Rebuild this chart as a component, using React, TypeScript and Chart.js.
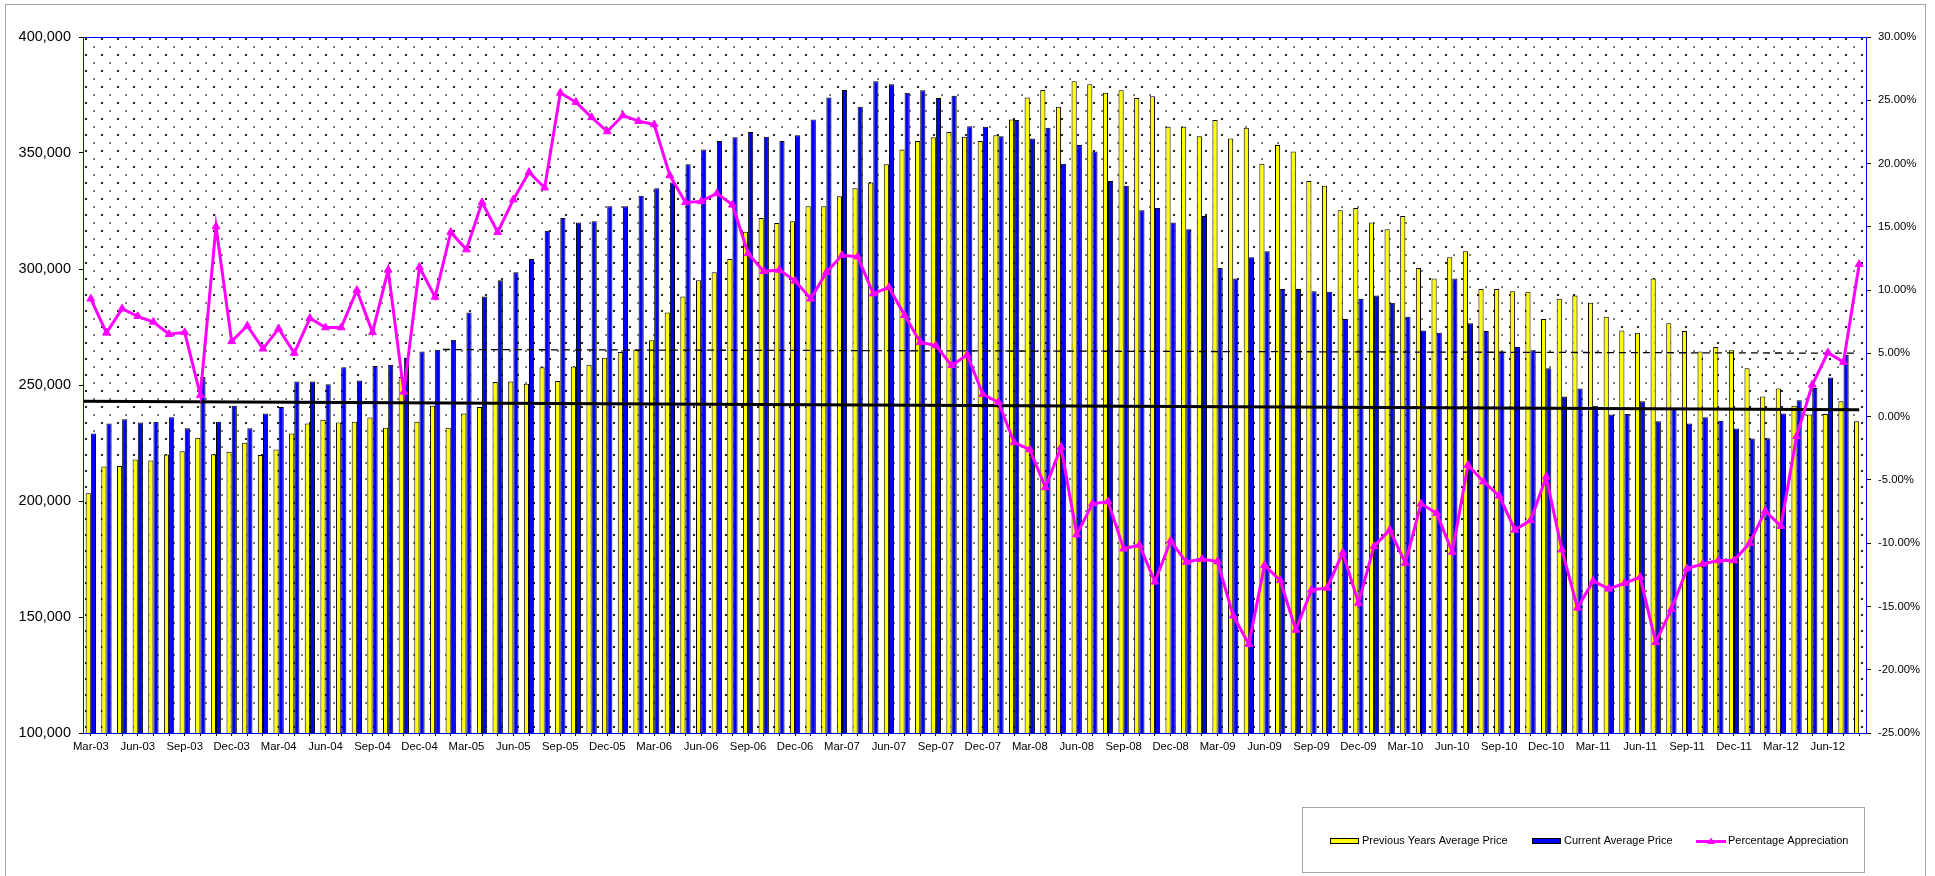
import React, { useEffect, useRef } from 'react';
import { Chart, registerables } from 'chart.js';

Chart.register(...registerables);

const categories = [
  'Mar-03','Apr-03','May-03','Jun-03','Jul-03','Aug-03','Sep-03','Oct-03','Nov-03','Dec-03',
  'Jan-04','Feb-04','Mar-04','Apr-04','May-04','Jun-04','Jul-04','Aug-04','Sep-04','Oct-04','Nov-04','Dec-04',
  'Jan-05','Feb-05','Mar-05','Apr-05','May-05','Jun-05','Jul-05','Aug-05','Sep-05','Oct-05','Nov-05','Dec-05',
  'Jan-06','Feb-06','Mar-06','Apr-06','May-06','Jun-06','Jul-06','Aug-06','Sep-06','Oct-06','Nov-06','Dec-06',
  'Jan-07','Feb-07','Mar-07','Apr-07','May-07','Jun-07','Jul-07','Aug-07','Sep-07','Oct-07','Nov-07','Dec-07',
  'Jan-08','Feb-08','Mar-08','Apr-08','May-08','Jun-08','Jul-08','Aug-08','Sep-08','Oct-08','Nov-08','Dec-08',
  'Jan-09','Feb-09','Mar-09','Apr-09','May-09','Jun-09','Jul-09','Aug-09','Sep-09','Oct-09','Nov-09','Dec-09',
  'Jan-10','Feb-10','Mar-10','Apr-10','May-10','Jun-10','Jul-10','Aug-10','Sep-10','Oct-10','Nov-10','Dec-10',
  'Jan-11','Feb-11','Mar-11','Apr-11','May-11','Jun-11','Jul-11','Aug-11','Sep-11','Oct-11','Nov-11','Dec-11',
  'Jan-12','Feb-12','Mar-12','Apr-12','May-12','Jun-12','Jul-12','Aug-12'
];

const previousYearsAvg = [
  203300, 214900, 215100, 217900, 217500, 220000, 221400, 227300, 220200, 221200,
  225100, 219800, 222200, 229100, 233400, 235000, 233800, 234200, 236000, 231600,
  253400, 234200, 241100, 231600, 237700, 240500, 251300, 251500, 250500, 257600,
  251700, 258000, 258700, 261700, 264200, 265200, 269300, 281300, 288200, 295100,
  298600, 304300, 316100, 322000, 319800, 320600, 327100, 327100, 331400, 334800,
  337300, 345200, 351500, 355200, 356800, 359100, 357000, 355200, 357600, 364400,
  373900, 377200, 369900, 380900, 379600, 376000, 377000, 373700, 374500, 361300,
  361300, 357200, 364200, 356200, 360900, 345400, 353400, 350700, 337900, 335900,
  325300, 326300, 320000, 317100, 322800, 300400, 295900, 305100, 307700, 291400,
  291400, 290400, 290200, 278400, 287200, 288600, 285500, 279400, 273500, 272500,
  295900, 276600, 273300, 264400, 266400, 265000, 257200, 245000, 248500, 241100,
  237300, 237500, 243000, 234400
];

const currentAvg = [
  229100, 233400, 235200, 233800, 234200, 236100, 231400, 253400, 234200, 241100,
  231400, 237700, 240500, 251500, 251500, 250300, 257600, 251900, 258200, 258700,
  261700, 264400, 265200, 269500, 281300, 288200, 295100, 298600, 304300, 316500,
  322000, 320000, 320600, 327100, 327100, 331600, 334800, 337300, 345200, 351500,
  355200, 356800, 359100, 357000, 355200, 357600, 364400, 373900, 377200, 369900,
  380900, 379600, 376000, 377000, 373700, 374700, 361500, 361300, 357200, 364200,
  356200, 360900, 345400, 353400, 350700, 337900, 335900, 325300, 326300, 320000,
  317100, 322800, 300400, 295900, 305100, 307700, 291400, 291400, 290400, 290200,
  278400, 287200, 288600, 285500, 279400, 273500, 272500, 295900, 276600, 273300,
  264400, 266400, 265000, 257200, 245000, 248500, 241100, 237300, 237500, 243000,
  234400, 240100, 233400, 236100, 234600, 231200, 226900, 227100, 237700, 243400,
  248700, 253200, 262900, null
];

const pctAppreciation = [
  9.31, 6.62, 8.53, 7.93, 7.48, 6.51, 6.66, 1.70, 15.03, 5.95,
  7.18, 5.36, 6.96, 5.02, 7.78, 7.04, 7.04, 9.99, 6.66, 11.59,
  1.96, 11.81, 9.46, 14.58, 13.20, 16.93, 14.58, 17.15, 19.32, 18.09,
  25.59, 24.85, 23.65, 22.53, 23.80, 23.35, 23.09, 19.06, 16.93, 17.01,
  17.64, 16.74, 12.90, 11.48, 11.59, 10.73, 9.31, 11.40, 12.75, 12.64,
  9.72, 10.21, 8.01, 5.88, 5.62, 4.05, 4.87, 1.77, 1.14, -2.04,
  -2.60, -5.59, -2.41, -9.32, -6.89, -6.71, -10.44, -10.14, -13.05, -9.81,
  -11.49, -11.26, -11.45, -15.74, -17.98, -11.75, -12.94, -16.86, -13.69, -13.54,
  -10.74, -14.73, -10.25, -8.95, -11.56, -6.89, -7.64, -10.70, -3.83, -5.14,
  -6.26, -8.95, -8.20, -4.76, -10.52, -15.11, -12.98, -13.61, -13.17, -12.68,
  -17.83, -15.22, -12.01, -11.64, -11.37, -11.37, -9.99, -7.45, -8.65, -1.55,
  2.52, 5.06, 4.31, 12.04
];

// trend lines: positions (in category units) and values at their two ends
const solidTrendX = [-0.5, 113];
const solidTrendY = [243000, 239300];
const dashedTrendX = [22.5, 113];
const dashedTrendY = [265300, 263700];

const leftAxis = { min: 100000, max: 400000, step: 50000 };
const rightAxis = { min: -25, max: 30, step: 5 };
const labelEvery = 3;

const legendLabels = ['Previous Years Average Price', 'Current Average Price', 'Percentage Appreciation'];

const FONT = "Arial, 'Liberation Sans', Helvetica, sans-serif";

const byIndex = (arr: (number | null)[]) => arr.map((y, i) => ({ x: i, y }));

function makeDotPattern(ctx: CanvasRenderingContext2D) {
  const c = document.createElement('canvas');
  c.width = 16;
  c.height = 16;
  const p = c.getContext('2d')!;
  p.fillStyle = '#ffffff';
  p.fillRect(0, 0, 16, 16);
  p.fillStyle = '#222222';
  p.fillRect(5, 6, 2, 2);
  p.fillStyle = '#808080';
  p.fillRect(13, 14, 2, 2);
  return ctx.createPattern(c, 'repeat');
}

const decorPlugin = {
  id: 'decor',
  beforeDraw(chart: any) {
    const { ctx, chartArea: a, width, height } = chart;
    ctx.save();
    ctx.fillStyle = '#ffffff';
    ctx.fillRect(0, 0, width, height);
    const pat = makeDotPattern(ctx);
    if (pat) {
      ctx.fillStyle = pat;
      ctx.fillRect(a.left, a.top, a.right - a.left, a.bottom - a.top);
    }
    ctx.strokeStyle = '#a6a6a6';
    ctx.lineWidth = 1;
    ctx.strokeRect(5.5, 4.5, 1920, 900);
    ctx.restore();
  },
  afterDatasetsDraw(chart: any) {
    const { ctx, chartArea: a } = chart;
    ctx.save();
    ctx.strokeStyle = '#0000ff';
    ctx.lineWidth = 1;
    ctx.strokeRect(Math.round(a.left) + 0.5, Math.round(a.top) + 0.5, Math.round(a.right - a.left) - 1, Math.round(a.bottom - a.top));
    ctx.restore();
  },
  afterDraw(chart: any) {
    const { ctx } = chart;
    ctx.save();
    ctx.strokeStyle = '#a6a6a6';
    ctx.lineWidth = 1;
    ctx.strokeRect(1302.5, 807.5, 562, 65);
    const cy = 841;
    const items = [
      { x: 1330, tx: 1362 },
      { x: 1532, tx: 1564 },
      { x: 1696, tx: 1728 },
    ];
    ctx.font = `11px ${FONT}`;
    ctx.textBaseline = 'middle';
    ctx.textAlign = 'left';
    legendLabels.forEach((lab, i) => {
      const ds = chart.data.datasets.find((d: any) => d.label === lab);
      const it = items[i];
      if (ds.type === 'line') {
        ctx.strokeStyle = ds.borderColor;
        ctx.lineWidth = 3;
        ctx.beginPath();
        ctx.moveTo(it.x, cy + 0.5);
        ctx.lineTo(it.x + 30, cy + 0.5);
        ctx.stroke();
        ctx.fillStyle = ds.borderColor;
        ctx.beginPath();
        ctx.moveTo(it.x + 15, cy - 3.5);
        ctx.lineTo(it.x + 19, cy + 3);
        ctx.lineTo(it.x + 11, cy + 3);
        ctx.closePath();
        ctx.fill();
      } else {
        ctx.fillStyle = ds.backgroundColor;
        ctx.fillRect(it.x, cy - 3, 29, 6);
        ctx.strokeStyle = '#000000';
        ctx.lineWidth = 1;
        ctx.strokeRect(it.x + 0.5, cy - 2.5, 28, 5);
      }
      ctx.fillStyle = '#000000';
      ctx.fillText(lab, it.tx, cy);
    });
    ctx.restore();
  },
};

export default function App() {
  const ref = useRef<HTMLCanvasElement | null>(null);

  useEffect(() => {
    if (!ref.current) return;
    const chart = new Chart(ref.current, {
      type: 'bar',
      data: {
        datasets: [
          {
            type: 'line',
            label: 'Percentage Appreciation',
            data: byIndex(pctAppreciation),
            yAxisID: 'y1',
            borderColor: '#ff00ff',
            backgroundColor: '#ff00ff',
            borderWidth: 3,
            pointStyle: 'triangle',
            pointRadius: 4.5,
            pointBorderWidth: 1,
            pointBackgroundColor: '#ff00ff',
            pointBorderColor: '#ff00ff',
            tension: 0,
            order: 0,
          } as any,
          {
            type: 'line',
            label: 'Trend',
            data: solidTrendX.map((x, i) => ({ x, y: solidTrendY[i] })),
            yAxisID: 'y',
            borderColor: '#000000',
            borderWidth: 3,
            pointRadius: 0,
            order: 1,
          } as any,
          {
            type: 'line',
            label: 'Trend 2',
            data: dashedTrendX.map((x, i) => ({ x, y: dashedTrendY[i] })),
            yAxisID: 'y',
            borderColor: '#000000',
            borderWidth: 1.3,
            borderDash: [7, 5],
            pointRadius: 0,
            order: 1,
          } as any,
          {
            type: 'bar',
            label: 'Previous Years Average Price',
            data: byIndex(previousYearsAvg),
            yAxisID: 'y',
            backgroundColor: '#ffff00',
            borderColor: '#000000',
            borderWidth: 1,
            borderSkipped: false,
            categoryPercentage: 0.66,
            barPercentage: 1,
            order: 2,
          } as any,
          {
            type: 'bar',
            label: 'Current Average Price',
            data: byIndex(currentAvg),
            yAxisID: 'y',
            backgroundColor: '#0000ff',
            borderColor: '#000000',
            borderWidth: 1,
            borderSkipped: false,
            categoryPercentage: 0.66,
            barPercentage: 1,
            order: 2,
          } as any,
        ],
      },
      options: {
        responsive: false,
        animation: false,
        devicePixelRatio: 1,
        events: [],
        layout: { padding: { top: 37, left: 0, right: 0, bottom: 0 } },
        plugins: {
          legend: { display: false },
          tooltip: { enabled: false },
          title: { display: false },
        },
        scales: {
          x: {
            type: 'linear',
            min: -0.5,
            max: categories.length - 0.5,
            offset: false,
            grid: { display: true, drawOnChartArea: false, drawTicks: true, tickLength: 3, color: '#000000', offset: false },
            border: { display: false },
            afterBuildTicks: (s: any) => {
              s.ticks = categories.map((_, i) => ({ value: i }));
            },
            ticks: {
              autoSkip: false,
              maxRotation: 0,
              minRotation: 0,
              padding: 4,
              color: '#000000',
              font: { family: FONT, size: 11.3 },
              callback: (v: any) => {
                const i = Number(v);
                return Number.isInteger(i) && i % labelEvery === 0 ? categories[i] : '';
              },
            },
            afterFit: (s: any) => {
              s.height = 143;
            },
          },
          y: {
            type: 'linear',
            position: 'left',
            min: leftAxis.min,
            max: leftAxis.max,
            grid: { drawOnChartArea: false, drawTicks: true, tickLength: 4, color: '#000000' },
            border: { display: false },
            ticks: {
              stepSize: leftAxis.step,
              padding: 8,
              color: '#000000',
              font: { family: FONT, size: 14.5 },
              callback: (v: any) => Number(v).toLocaleString('en-US'),
            },
            afterFit: (s: any) => {
              s.width = 83;
            },
          },
          y1: {
            type: 'linear',
            position: 'right',
            min: rightAxis.min,
            max: rightAxis.max,
            grid: { drawOnChartArea: false, drawTicks: true, tickLength: 4, color: '#000000' },
            border: { display: false },
            ticks: {
              stepSize: rightAxis.step,
              padding: 7,
              color: '#000000',
              font: { family: FONT, size: 11.3 },
              callback: (v: any) => Number(v).toFixed(2) + '%',
            },
            afterFit: (s: any) => {
              s.width = 68;
            },
          },
        },
      } as any,
      plugins: [decorPlugin],
    });
    return () => chart.destroy();
  }, []);

  return (
    <div style={{ position: 'absolute', left: 0, top: 0, width: 1935, height: 876, background: '#ffffff' }}>
      <canvas ref={ref} width={1935} height={876} style={{ display: 'block', width: 1935, height: 876 }} />
    </div>
  );
}
